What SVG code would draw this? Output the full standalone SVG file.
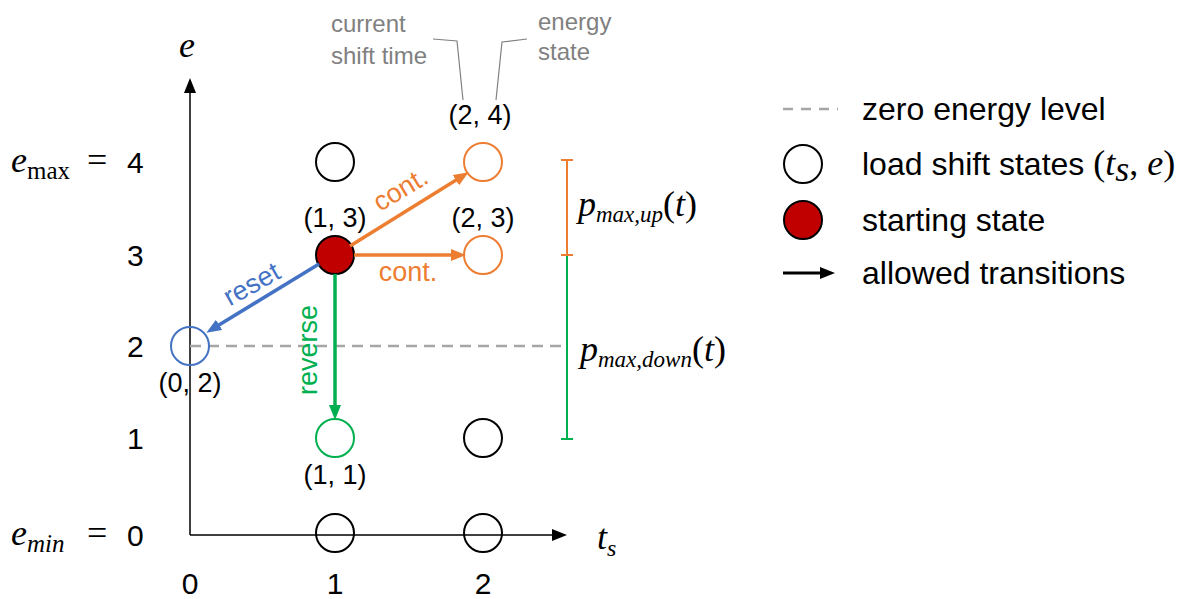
<svg xmlns="http://www.w3.org/2000/svg" width="1192" height="599" viewBox="0 0 1192 599">
<style>
.num{font-family:"Liberation Sans",Arial,sans-serif;font-size:30px;fill:#000}
.coord{font-family:"Liberation Sans",Arial,sans-serif;font-size:27px;fill:#000;text-anchor:middle}
.note{font-family:"Liberation Sans",Arial,sans-serif;font-size:24px;fill:#808080}
.leg{font-family:"Liberation Sans",Arial,sans-serif;font-size:32px;fill:#000}
.math{font-family:"Liberation Serif","Times New Roman",serif;font-size:36px;fill:#000}
.it{font-style:italic}
.st{fill:none;stroke:#000;stroke-width:2}
.st-o{fill:none;stroke:#ED7D31;stroke-width:2}
.st-b{fill:none;stroke:#4472C4;stroke-width:2}
.st-g{fill:none;stroke:#00B050;stroke-width:2}
.lbl{font-family:"Liberation Sans",Arial,sans-serif;font-size:27px;text-anchor:middle}
</style>
<defs>
<marker id="ah-k" markerUnits="userSpaceOnUse" markerWidth="16" markerHeight="12" refX="6" refY="6" orient="auto"><path d="M0,0 L15,6 L0,12 z" fill="#000"/></marker>
<marker id="ah-o" markerUnits="userSpaceOnUse" markerWidth="16" markerHeight="12" refX="6" refY="6" orient="auto"><path d="M0,0 L15,6 L0,12 z" fill="#ED7D31"/></marker>
<marker id="ah-b" markerUnits="userSpaceOnUse" markerWidth="16" markerHeight="12" refX="6" refY="6" orient="auto"><path d="M0,0 L15,6 L0,12 z" fill="#4472C4"/></marker>
<marker id="ah-g" markerUnits="userSpaceOnUse" markerWidth="16" markerHeight="12" refX="6" refY="6" orient="auto"><path d="M0,0 L15,6 L0,12 z" fill="#00B050"/></marker>
</defs>
<rect width="1192" height="599" fill="#fff"/>

<g id="axes">
<line x1="190" y1="535" x2="190" y2="87" stroke="#000" stroke-width="1.5" marker-end="url(#ah-k)"/>
<line x1="190" y1="535" x2="558" y2="535" stroke="#000" stroke-width="1.5" marker-end="url(#ah-k)"/>
<text class="math it" x="179" y="57">e</text>
<text class="math" x="597" y="549"><tspan class="it">t</tspan><tspan class="it" font-size="24" dy="7">s</tspan></text>
<text class="num" x="127" y="173">4</text>
<text class="num" x="127" y="266">3</text>
<text class="num" x="127" y="357">2</text>
<text class="num" x="127" y="449">1</text>
<text class="num" x="127" y="546">0</text>
<text class="math" x="11" y="172"><tspan class="it">e</tspan><tspan font-size="25" dy="7">max</tspan></text>
<text class="math" x="87" y="172">=</text>
<text class="math" x="11" y="545"><tspan class="it">e</tspan><tspan class="it" font-size="25" dy="7">min</tspan></text>
<text class="math" x="87" y="545">=</text>
<text class="num" x="190" y="594" text-anchor="middle">0</text>
<text class="num" x="335" y="594" text-anchor="middle">1</text>
<text class="num" x="483" y="594" text-anchor="middle">2</text>
</g>

<line id="zero-level" x1="190" y1="346" x2="566" y2="346" stroke="#A6A6A6" stroke-width="2.5" stroke-dasharray="11 7"/>

<g id="ranges">
<line x1="567" y1="160" x2="567" y2="255" stroke="#ED7D31" stroke-width="2"/>
<line x1="561" y1="160" x2="573" y2="160" stroke="#ED7D31" stroke-width="2"/>
<line x1="567" y1="255" x2="567" y2="439" stroke="#00B050" stroke-width="2"/>
<line x1="561" y1="439" x2="573" y2="439" stroke="#00B050" stroke-width="2"/>
<line x1="561" y1="255" x2="573" y2="255" stroke="#ED7D31" stroke-width="2"/>
<text class="math" x="578" y="216" font-size="34"><tspan class="it">p</tspan><tspan class="it" font-size="23" dy="6">max,up</tspan><tspan dy="-6">(</tspan><tspan class="it">t</tspan><tspan>)</tspan></text>
<text class="math" x="580" y="361" font-size="34"><tspan class="it">p</tspan><tspan class="it" font-size="23" dy="6">max,down</tspan><tspan dy="-6">(</tspan><tspan class="it">t</tspan><tspan>)</tspan></text>
</g>

<g id="annotations">
<text class="note" x="331" y="32">current</text>
<text class="note" x="331" y="64">shift time</text>
<text class="note" x="538" y="30">energy</text>
<text class="note" x="538" y="60">state</text>
<polyline points="433,39 457,41 463,100" fill="none" stroke="#808080" stroke-width="1.2"/>
<polyline points="527,39 502,42 496,100" fill="none" stroke="#808080" stroke-width="1.2"/>
</g>

<g id="node-1-4"><circle class="st" cx="335" cy="162" r="19"/></g>
<g id="node-2-4"><circle class="st-o" cx="483" cy="162" r="19"/><text class="coord" x="480" y="124">(2, 4)</text></g>
<g id="node-1-3"><circle cx="335" cy="255" r="19" fill="#C00000" stroke="#000" stroke-width="2"/><text class="coord" x="335" y="227">(1, 3)</text></g>
<g id="node-2-3"><circle class="st-o" cx="483" cy="255" r="19"/><text class="coord" x="483" y="227">(2, 3)</text></g>
<g id="node-0-2"><circle class="st-b" cx="190" cy="346" r="19"/><text class="coord" x="190" y="392">(0, 2)</text></g>
<g id="node-1-1"><circle class="st-g" cx="335" cy="438" r="19"/><text class="coord" x="335" y="484">(1, 1)</text></g>
<g id="node-2-1"><circle class="st" cx="483" cy="438" r="19"/></g>
<g id="node-1-0"><circle class="st" cx="335" cy="533" r="19"/></g>
<g id="node-2-0"><circle class="st" cx="483" cy="533" r="19"/></g>

<g id="connectors">
<line x1="350" y1="246" x2="461" y2="177" stroke="#ED7D31" stroke-width="3.5" marker-end="url(#ah-o)"/>
<line x1="354" y1="255" x2="457" y2="255" stroke="#ED7D31" stroke-width="3.5" marker-end="url(#ah-o)"/>
<line x1="319" y1="264" x2="214" y2="328" stroke="#4472C4" stroke-width="3.5" marker-end="url(#ah-b)"/>
<line x1="335" y1="274" x2="335" y2="411" stroke="#00B050" stroke-width="3.5" marker-end="url(#ah-g)"/>
<text class="lbl" fill="#ED7D31" transform="translate(405,197) rotate(-31)">cont.</text>
<text class="lbl" fill="#ED7D31" x="408" y="281">cont.</text>
<text class="lbl" fill="#4472C4" transform="translate(256,292) rotate(-29)">reset</text>
<text class="lbl" fill="#00B050" transform="translate(317,350) rotate(-90)">reverse</text>
</g>

<g id="legend">
<line x1="783" y1="109" x2="838" y2="109" stroke="#A6A6A6" stroke-width="2.5" stroke-dasharray="10 8"/>
<text class="leg" x="862" y="120">zero energy level</text>
<circle class="st" cx="803" cy="164" r="19"/>
<text class="leg" x="862" y="175">load shift states <tspan class="math" font-size="34">(</tspan><tspan class="math it" font-size="34">t</tspan><tspan class="math it" font-size="23" dy="6">s</tspan><tspan class="math" font-size="34" dy="-6">, </tspan><tspan class="math it" font-size="34">e</tspan><tspan class="math" font-size="34">)</tspan></text>
<circle cx="803" cy="220" r="19" fill="#C00000" stroke="#000" stroke-width="2"/>
<text class="leg" x="862" y="231">starting state</text>
<line x1="783" y1="273" x2="826" y2="273" stroke="#000" stroke-width="3" marker-end="url(#ah-k)"/>
<text class="leg" x="862" y="284">allowed transitions</text>
</g>
</svg>
